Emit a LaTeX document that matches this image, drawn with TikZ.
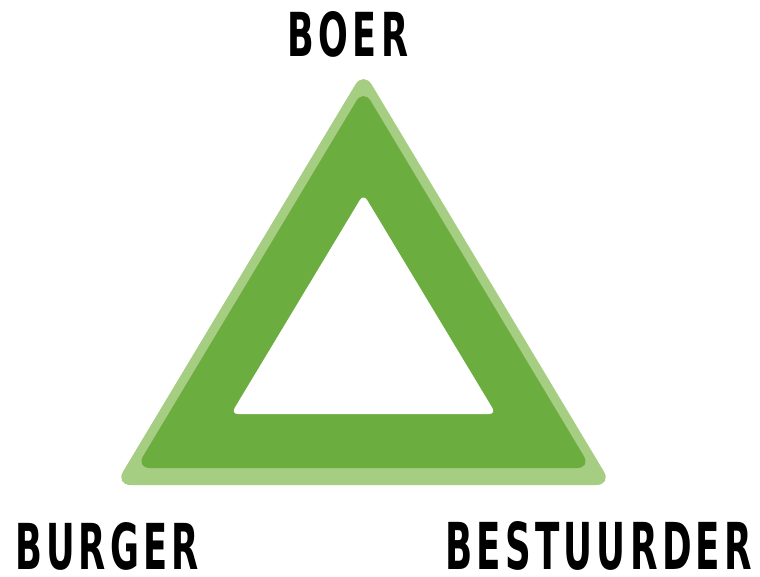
\documentclass[tikz,border=0pt]{standalone}
\usepackage{fontspec}
\newfontfamily\labelfont[LetterSpace=12]{DejaVu Sans Bold}
\definecolor{lightgreen}{RGB}{166,206,131}
\definecolor{darkgreen}{RGB}{107,173,62}
\begin{document}
\begin{tikzpicture}[x=1pt,y=-1pt]
\tikzset{
  lbl/.style={inner sep=0pt, outer sep=0pt, text=black},
}
\useasboundingbox[fill=white] (0,0) rectangle (760,576);
% outer light triangle
\coordinate (oa) at (363.5,71);
\coordinate (ob) at (115,485);
\coordinate (oc) at (612,485);
\fill[lightgreen, rounded corners=16pt] (oa) -- (ob) -- (oc) -- cycle;
% dark triangle
\coordinate (da) at (363.5,89);
\coordinate (db) at (136,468);
\coordinate (dc) at (591,468);
\fill[darkgreen, rounded corners=14pt] (da) -- (db) -- (dc) -- cycle;
% inner white hole
\coordinate (wa) at (363.5,194);
\coordinate (wb) at (231,414);
\coordinate (wc) at (496,414);
\fill[white, rounded corners=7pt] (wa) -- (wb) -- (wc) -- cycle;
% labels
\node[lbl, anchor=south] (boer) at (348,57) {\resizebox{120pt}{45pt}{\labelfont BOER}};
\node[lbl, anchor=south west] (burger) at (15,570) {\resizebox{184pt}{47pt}{\labelfont BURGER}};
\node[lbl, anchor=south west] (best) at (445,570) {\resizebox{307pt}{48pt}{\labelfont BESTUURDER}};
\end{tikzpicture}
\end{document}
